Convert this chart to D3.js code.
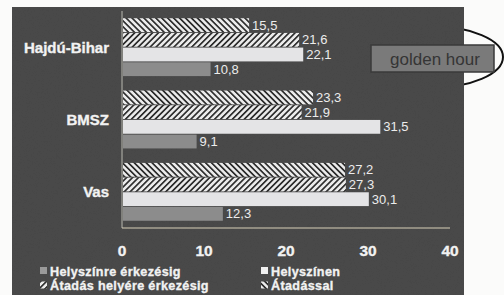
<!DOCTYPE html>
<html><head><meta charset="utf-8">
<script src="https://cdn.jsdelivr.net/npm/d3@7"></script>
<style>body{margin:0;background:#fbfbfa;}svg{display:block;}</style>
</head><body>
<script>
const categories = ["Hajdú-Bihar", "BMSZ", "Vas"];
const seriesNames = ["Átadással", "Átadás helyére érkezésig", "Helyszínen", "Helyszínre érkezésig"];
const atadassal = [15.5, 23.3, 27.2];
const atadasHelyere = [21.6, 21.9, 27.3];
const helyszinen = [22.1, 31.5, 30.1];
const helyszinre = [10.8, 9.1, 12.3];
const xTicks = [0, 10, 20, 30, 40];
const seriesValues = [atadassal, atadasHelyere, helyszinen, helyszinre];
const legendOrder = ["Helyszínre érkezésig", "Helyszínen", "Átadás helyére érkezésig", "Átadással"];

const W = 504, H = 295;
const FONT = "Liberation Sans, Arial, sans-serif";
const svg = d3.select("body").append("svg").attr("width", W).attr("height", H);
const defs = svg.append("defs");

const f = defs.append("filter").attr("id", "noise").attr("x", 0).attr("y", 0).attr("width", "100%").attr("height", "100%");
f.append("feTurbulence").attr("type", "fractalNoise").attr("baseFrequency", 0.8).attr("numOctaves", 2).attr("seed", 3).attr("result", "t");
f.append("feColorMatrix").attr("in", "t").attr("type", "matrix")
  .attr("values", "0 0 0 0 0.5  0 0 0 0 0.5  0 0 0 0 0.5  0 0 0 0.5 0").attr("result", "n");
f.append("feComposite").attr("in", "n").attr("in2", "SourceGraphic").attr("operator", "in").attr("result", "nc");
f.append("feBlend").attr("in", "SourceGraphic").attr("in2", "nc").attr("mode", "overlay");

function hatch(id, dir) {
  const p = defs.append("pattern").attr("id", id).attr("patternUnits", "userSpaceOnUse")
    .attr("width", 4.2).attr("height", 4.2).attr("patternTransform", `rotate(${dir > 0 ? 45 : -45})`);
  p.append("rect").attr("width", 4.2).attr("height", 4.2).attr("fill", "#ececec");
  p.append("rect").attr("x", 0).attr("y", 0).attr("width", 1.7).attr("height", 4.2).attr("fill", "#2e2e2e");
}
hatch("hBack", -1);
hatch("hFwd", 1);
const fills = ["url(#hBack)", "url(#hFwd)", "#e4e4e6", "#8c8c8c"];

svg.append("ellipse").attr("cx", 430).attr("cy", 57).attr("rx", 73).attr("ry", 31)
  .attr("fill", "none").attr("stroke", "#111").attr("stroke-width", 2);

svg.append("rect").attr("x", 12).attr("y", 7).attr("width", 452).attr("height", 288)
  .attr("fill", "#484848").attr("filter", "url(#noise)");

const x = d3.scaleLinear().domain([0, 40]).range([122, 450]);
const y = d3.scaleBand().domain(categories).range([11, 228]).paddingInner(0.2).paddingOuter(0.1);
const yi = d3.scaleBand().domain(seriesNames).range([0, y.bandwidth()]).paddingInner(0.06);

svg.append("line").attr("x1", x(0)).attr("x2", x(0)).attr("y1", 11).attr("y2", 228)
  .attr("stroke", "#b9b9b0").attr("stroke-width", 1);
svg.append("line").attr("x1", x(0)).attr("x2", x(40)).attr("y1", 228).attr("y2", 228)
  .attr("stroke", "#d8cfb8").attr("stroke-width", 1.2);

function boldText(sel) {
  return sel.attr("font-family", FONT).attr("font-weight", "bold").attr("fill", "#f2f2f2")
    .attr("stroke", "#f2f2f2").attr("stroke-width", 0.35);
}

const g = svg.append("g");
categories.forEach((c, ci) => {
  seriesNames.forEach((s, si) => {
    const v = seriesValues[si][ci];
    const yy = y(c) + yi(s);
    g.append("rect").attr("x", x(0) + 1).attr("y", yy).attr("width", x(v) - x(0) - 1)
      .attr("height", yi.bandwidth()).attr("fill", fills[si]);
    g.append("text").attr("x", x(v) + 3).attr("y", yy + yi.bandwidth() / 2 + 4.5)
      .attr("font-family", FONT).attr("font-size", 13)
      .attr("fill", "#ececec").text(String(v).replace(".", ","));
  });
  boldText(svg.append("text").attr("x", 109).attr("y", y(c) + y.bandwidth() / 2 + 5.5)
    .attr("text-anchor", "end").attr("font-size", 15)).text(c);
});

xTicks.forEach(t => {
  boldText(svg.append("text").attr("x", x(t)).attr("y", 256).attr("text-anchor", "middle")
    .attr("font-size", 15.5)).text(t);
});

const legPos = [[40, 271], [261, 271], [40, 285.5], [261, 285.5]];
const legFill = {"Helyszínre érkezésig": "#9a9a9a", "Helyszínen": "#f0f0f0",
  "Átadás helyére érkezésig": "url(#hFwd)", "Átadással": "url(#hBack)"};
legendOrder.forEach((s, i) => {
  const [lx, ly] = legPos[i];
  svg.append("rect").attr("x", lx).attr("y", ly - 4).attr("width", 7).attr("height", 7)
    .attr("fill", legFill[s]);
  boldText(svg.append("text").attr("x", lx + 10).attr("y", ly + 4.5)
    .attr("font-size", 12.6).attr("letter-spacing", 0.35)).text(s);
});

svg.append("rect").attr("x", 371).attr("y", 45).attr("width", 123).attr("height", 27)
  .attr("fill", "#7a7a7a").attr("stroke", "#3a3a3a").attr("stroke-width", 1.5);
svg.append("text").attr("x", 435).attr("y", 64.5).attr("text-anchor", "middle")
  .attr("font-family", FONT).attr("font-size", 17)
  .attr("fill", "#353535").text("golden hour");
</script>
</body></html>
